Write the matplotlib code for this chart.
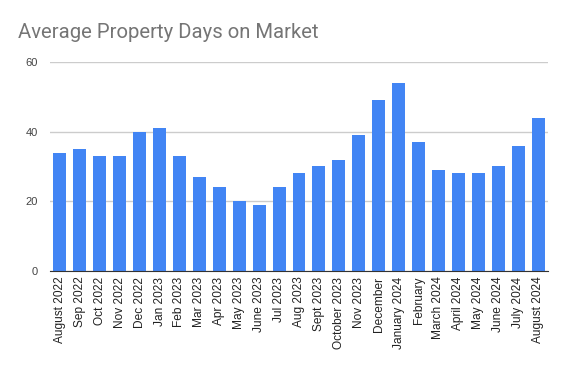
import matplotlib.pyplot as plt
import numpy as np

# месяцы и средние дни на рынке
months = ['August 2022', 'Sep 2022', 'Oct 2022', 'Nov 2022', 'Dec 2022',
          'Jan 2023', 'Feb 2023', 'Mar 2023', 'Apr 2023', 'May 2023',
          'June 2023', 'Jul 2023', 'Aug 2023', 'Sept 2023', 'October 2023',
          'Nov 2023', 'December', 'January 2024', 'February', 'March 2024',
          'April 2024', 'May 2024', 'June 2024', 'July 2024', 'August 2024']
days = [34, 35, 33, 33, 40, 41, 33, 27, 24, 20, 19, 24, 28, 30, 32,
        39, 49, 54, 37, 29, 28, 28, 30, 36, 44]
y_ticks = [0, 20, 40, 60]

plt.rcParams['font.family'] = ['Liberation Sans', 'DejaVu Sans']

fig = plt.figure(figsize=(5.66, 3.71), dpi=100)
ax = fig.add_axes([50 / 566, 1 - 271 / 371, 498 / 566, 209 / 371])

x = np.arange(len(months))
ax.bar(x, days, width=0.65, color='#4285F4', zorder=3)

ax.set_xlim(-0.5, len(months) - 0.5)
ax.set_ylim(0, 60)
ax.set_yticks(y_ticks)
ax.set_xticks(x)
ax.set_xticklabels(months, rotation=90, fontsize=8.6, color='#222222')
ax.tick_params(axis='y', labelsize=8, labelcolor='#444444', length=0, pad=9)
ax.tick_params(axis='x', length=0, pad=4)
ax.grid(axis='y', color='#cccccc', linewidth=1, zorder=0)

for s in ['top', 'right', 'left']:
    ax.spines[s].set_visible(False)
ax.spines['bottom'].set_color('#333333')
ax.spines['bottom'].set_zorder(4)

fig.text(18 / 566, 1 - 33 / 371, 'Average Property Days on Market',
         fontsize=14.6, color='#757575', va='center', ha='left',
         family=['Roboto', 'DejaVu Sans'])

fig.savefig('out.png', dpi=100)
